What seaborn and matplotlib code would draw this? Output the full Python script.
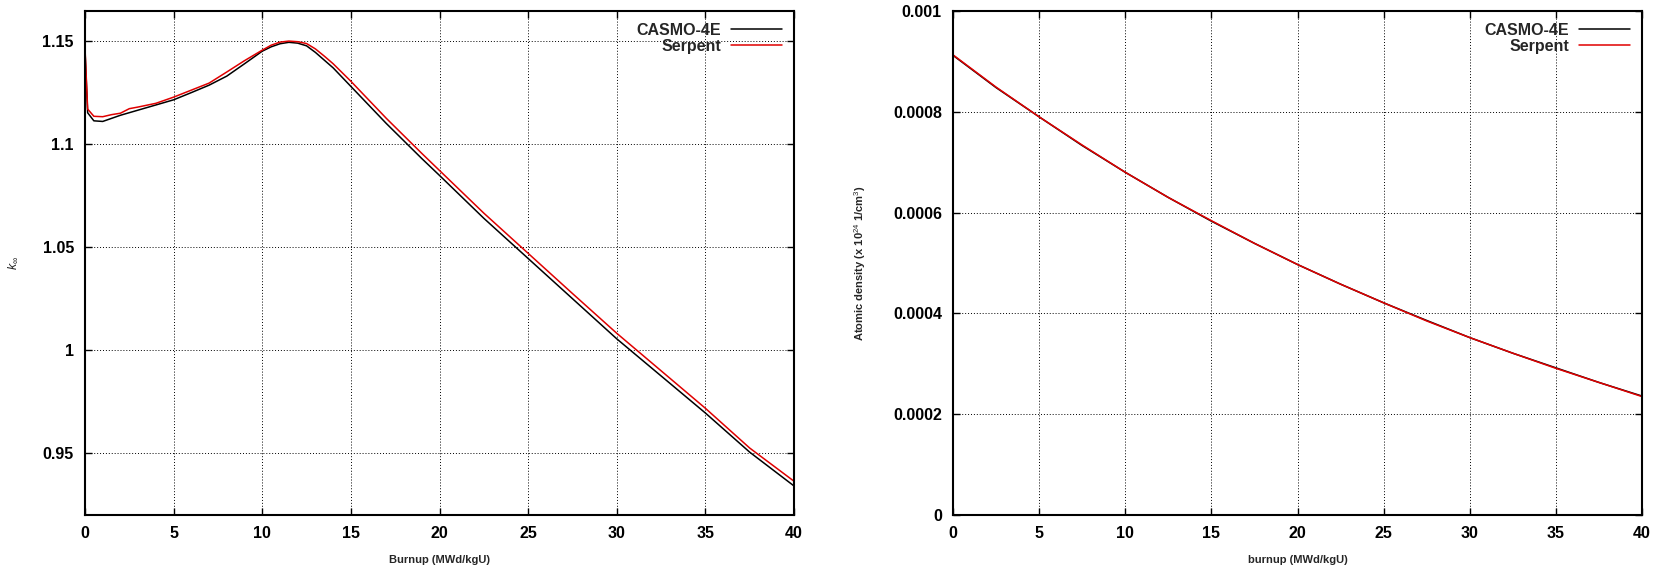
import matplotlib
matplotlib.use("Agg")
import matplotlib.pyplot as plt
import seaborn as sns
import pandas as pd
from matplotlib.ticker import FuncFormatter, MultipleLocator

# ---- data: k-infinity vs burnup ----
casmo_bu = [0, 0.15, 0.5, 1, 1.5, 2, 3, 4, 5, 6, 7, 8, 9, 10, 10.5, 11, 11.5, 12,
            12.5, 13, 14, 15, 16, 17, 18, 19, 20, 22.5, 25, 27.5, 30, 32.5, 35, 37.5, 40]
casmo_k = [1.1456, 1.1152, 1.1113, 1.1110, 1.1125, 1.1140, 1.1165, 1.1190, 1.1215,
           1.1250, 1.1286, 1.1330, 1.1390, 1.1451, 1.1472, 1.1487, 1.1494, 1.1490,
           1.1477, 1.1445, 1.1370, 1.1280, 1.1190, 1.1100, 1.1015, 1.0930, 1.0848,
           1.0640, 1.0445, 1.0250, 1.0055, 0.9875, 0.9695, 0.9505, 0.9341]
serpent_bu = [0, 0.15, 0.5, 1, 1.5, 2, 2.5, 3, 4, 5, 6, 7, 8, 9, 10, 10.5, 11, 11.5,
              12, 12.5, 13, 13.5, 14, 15, 16, 17, 18, 19, 20, 22.5, 25, 27.5, 30,
              32.5, 35, 37.5, 40]
serpent_k = [1.1466, 1.1170, 1.1135, 1.1133, 1.1143, 1.1150, 1.1172, 1.1180, 1.1198,
             1.1228, 1.1262, 1.1296, 1.1350, 1.1405, 1.1456, 1.1480, 1.1495, 1.1500,
             1.1497, 1.1488, 1.1462, 1.1427, 1.1390, 1.1305, 1.1215, 1.1125, 1.1040,
             1.0955, 1.0872, 1.0665, 1.0470, 1.0275, 1.0082, 0.9900, 0.9718, 0.9525,
             0.9364]

# ---- data: atomic density vs burnup ----
dens_bu = [0, 2.5, 5, 7.5, 10, 12.5, 15, 17.5, 20, 22.5, 25, 27.5, 30, 32.5, 35, 37.5, 40]
casmo_dens = [0.000912, 0.000848, 0.000790, 0.000733, 0.000680, 0.000630, 0.000583,
              0.000539, 0.000497, 0.000458, 0.000421, 0.000386, 0.000352, 0.000321,
              0.000292, 0.000263, 0.000236]
serpent_dens = [0.000913, 0.000849, 0.000790, 0.000734, 0.000680, 0.000630, 0.000584,
                0.000539, 0.000497, 0.000458, 0.000421, 0.000385, 0.000352, 0.000321,
                0.000291, 0.000263, 0.000235]

series_names = ["CASMO-4E", "Serpent"]
series_colors = ["black", "#e00000"]
x_ticks = [0, 5, 10, 15, 20, 25, 30, 35, 40]

sns.set_theme(style="white")
plt.rcParams["font.family"] = ["Liberation Sans", "DejaVu Sans"]
plt.rcParams["mathtext.fontset"] = "custom"
plt.rcParams["mathtext.rm"] = "Liberation Sans"
plt.rcParams["mathtext.it"] = "Liberation Sans:italic"
plt.rcParams["mathtext.bf"] = "Liberation Sans:bold"

fig = plt.figure(figsize=(16.55, 5.65), dpi=100)
ax1 = fig.add_axes([85 / 1655, 50 / 565, 709 / 1655, 504 / 565])
ax2 = fig.add_axes([953 / 1655, 50 / 565, 689 / 1655, 504 / 565])

k_df = pd.concat([
    pd.DataFrame({"bu": casmo_bu, "val": casmo_k, "code": series_names[0]}),
    pd.DataFrame({"bu": serpent_bu, "val": serpent_k, "code": series_names[1]}),
])
d_df = pd.concat([
    pd.DataFrame({"bu": dens_bu, "val": casmo_dens, "code": series_names[0]}),
    pd.DataFrame({"bu": dens_bu, "val": serpent_dens, "code": series_names[1]}),
])
palette = dict(zip(series_names, series_colors))

for ax, df in [(ax1, k_df), (ax2, d_df)]:
    sns.lineplot(data=df, x="bu", y="val", hue="code", palette=palette,
                 hue_order=series_names, ax=ax, linewidth=1.1, sort=False,
                 estimator=None)
    ax.set_xlim(0, 40)
    ax.set_xticks(x_ticks)
    ax.grid(True, color="black", linestyle=(0, (1, 2)), linewidth=0.7)
    ax.set_axisbelow(True)
    for s in ax.spines.values():
        s.set_visible(True)
        s.set_color("black")
        s.set_linewidth(1.5)
    ax.tick_params(direction="in", length=5, width=1, top=True, right=True,
                   bottom=True, left=True, colors="black", labelsize=11.5, pad=8)
    for lab in ax.get_xticklabels() + ax.get_yticklabels():
        lab.set_fontweight("bold")
    ax.yaxis.set_major_formatter(FuncFormatter(lambda v, p: "%g" % round(v, 6)))
    ax.xaxis.set_major_formatter(FuncFormatter(lambda v, p: "%g" % v))
    leg = ax.legend(loc="upper right", frameon=False, markerfirst=False,
                    handlelength=3.2, labelspacing=0.05, borderaxespad=0.35,
                    prop={"size": 11.5, "weight": "bold"}, handletextpad=0.6)
    for h in leg.get_lines():
        h.set_linewidth(1.1)

ax1.set_ylim(0.92, 1.1646)
ax1.yaxis.set_major_locator(MultipleLocator(0.05))
ax1.set_xlabel("Burnup (MWd/kgU)", fontsize=8, fontweight="bold", labelpad=10)
ax1.set_ylabel(r"$k_\infty$", fontsize=9)
ax1.yaxis.set_label_coords(-0.092, 0.5)

ax2.set_ylim(0, 0.001)
ax2.yaxis.set_major_locator(MultipleLocator(0.0002))
ax2.set_xlabel("burnup (MWd/kgU)", fontsize=8, fontweight="bold", labelpad=10)
ax2.set_ylabel(r"Atomic density (x 10$^{24}$ 1/cm$^{3}$)", fontsize=8,
               fontweight="bold")
ax2.yaxis.set_label_coords(-0.123, 0.5)

fig.savefig("out.png", dpi=100)
